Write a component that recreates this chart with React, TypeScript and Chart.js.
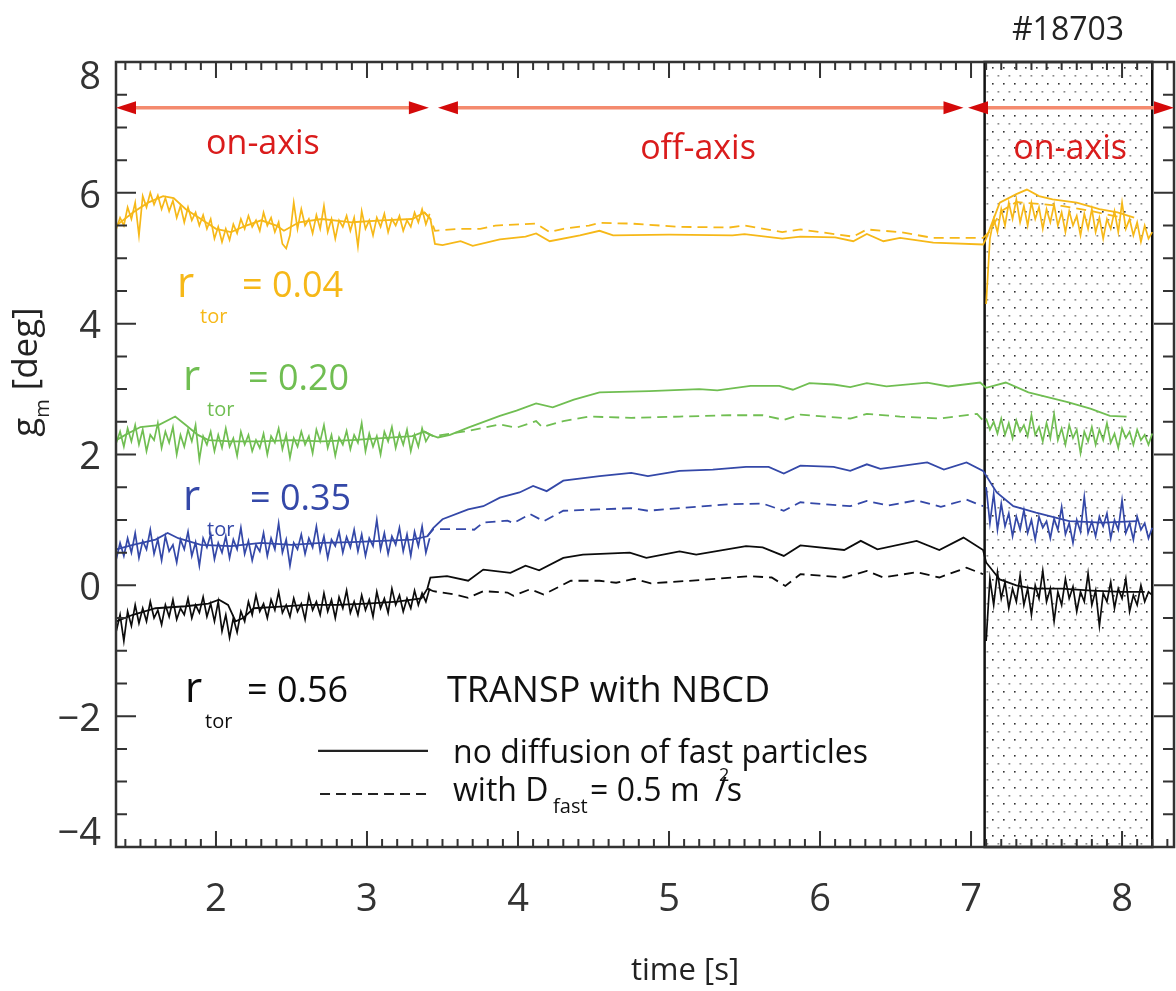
import React, { useEffect, useRef } from 'react';
import { Chart, registerables } from 'chart.js';
Chart.register(...registerables);

const FONT = '"Open Sans", "Noto Sans", sans-serif';

const X_MIN = 1.338, X_MAX = 8.344, Y_MIN = -4, Y_MAX = 8;
const X_TICKS = [2, 3, 4, 5, 6, 7, 8];
const Y_TICKS = [-4, -2, 0, 2, 4, 6, 8];

const PHASE1_T0 = 1.34;
const PHASE3_T0 = 7.10;
const DT = 0.025;
const HATCH = [7.09, 8.2];
const ARROW_LEVEL = 7.3;
const ARROW_SEGMENTS = [[1.338, 3.41], [3.47, 6.95], [6.98, 8.344]];

// measured (noisy) data, on-axis phase 1 (t = 1.34 + i*0.025)
const yellowMeas1 = [5.45,5.62,5.50,5.78,5.60,5.85,5.35,5.95,5.78,6.00,
  5.82,5.96,5.75,5.92,5.72,5.88,5.62,5.80,5.55,5.78,
  5.58,5.70,5.50,5.66,5.45,5.60,5.30,5.48,5.25,5.45,
  5.28,5.52,5.38,5.60,5.45,5.65,5.48,5.58,5.42,5.70,
  5.50,5.62,5.40,5.55,5.22,5.15,5.35,5.85,5.45,5.75,
  5.50,5.60,5.38,5.66,5.45,5.80,5.40,5.60,5.30,5.58,
  5.48,5.65,5.42,5.62,5.18,5.72,5.45,5.58,5.35,5.62,
  5.48,5.68,5.40,5.60,5.50,5.65,5.42,5.58,5.48,5.70,
  5.55,5.75,5.52,5.68];
const greenMeas1 = [2.18,2.35,2.12,2.40,2.20,2.45,2.15,2.38,2.05,2.30,
  2.22,2.48,2.10,2.35,2.18,2.42,2.00,2.30,2.12,2.38,
  2.20,2.45,1.92,2.28,2.15,2.35,2.05,2.30,2.10,2.40,
  2.12,2.25,1.98,2.35,2.15,2.30,2.05,2.22,2.10,2.32,
  2.00,2.28,2.18,2.40,2.08,2.30,1.95,2.25,2.12,2.35,
  2.15,2.28,2.02,2.38,2.20,2.45,2.10,2.30,1.98,2.26,
  2.15,2.36,2.08,2.30,2.18,2.48,2.05,2.32,2.12,2.28,
  2.00,2.35,2.20,2.42,2.10,2.32,2.15,2.38,2.05,2.30,
  2.12,2.40,2.20,2.30];
const blueMeas1 = [0.40,0.65,0.45,0.72,0.50,0.80,0.42,0.68,0.55,0.85,
  0.48,0.70,0.38,0.75,0.52,0.62,0.35,0.70,0.55,0.82,
  0.45,0.66,0.30,0.72,0.58,0.78,0.40,0.65,0.50,0.75,
  0.42,0.70,0.55,0.88,0.48,0.68,0.38,0.62,0.52,0.80,
  0.45,0.72,0.55,0.95,0.50,0.70,0.30,0.65,0.55,0.78,
  0.48,0.72,0.58,0.90,0.52,0.75,0.42,0.70,0.60,0.82,
  0.50,0.74,0.58,0.85,0.52,0.78,0.45,0.72,0.60,1.00,
  0.55,0.80,0.48,0.75,0.62,0.88,0.52,0.78,0.45,0.82,
  0.60,0.90,0.50,0.72];
const blackMeas1 = [-0.70,-0.45,-0.85,-0.40,-0.62,-0.30,-0.58,-0.35,-0.55,-0.25,
  -0.50,-0.38,-0.60,-0.30,-0.48,-0.22,-0.52,-0.35,-0.45,-0.20,
  -0.50,-0.30,-0.42,-0.18,-0.48,-0.28,-0.55,-0.25,-0.70,-0.45,
  -0.80,-0.50,-0.72,-0.40,-0.55,-0.25,-0.45,-0.15,-0.40,-0.28,
  -0.50,-0.22,-0.38,-0.10,-0.42,-0.30,-0.48,-0.20,-0.40,-0.28,
  -0.52,-0.15,-0.38,-0.25,-0.45,-0.12,-0.40,-0.22,-0.50,-0.18,
  -0.35,-0.08,-0.42,-0.25,-0.45,-0.15,-0.38,-0.22,-0.48,-0.10,
  -0.35,-0.20,-0.42,-0.05,-0.30,-0.15,-0.40,-0.20,-0.35,-0.08,
  -0.30,-0.12,-0.25,-0.05];

// measured (noisy) data, on-axis phase 3 (t = 7.10 + i*0.025)
const yellowMeas3 = [4.30,5.30,5.60,5.40,5.75,5.50,5.85,5.60,5.90,5.55,
  5.80,5.50,5.85,5.60,5.78,5.45,5.75,5.55,5.82,5.50,
  5.70,5.40,5.72,5.50,5.65,5.35,5.68,5.45,5.75,5.40,
  5.62,5.30,5.60,5.45,5.72,5.40,5.85,5.45,5.60,5.35,
  5.55,5.25,5.50,5.30,5.40];
const greenMeas3 = [2.55,2.38,2.50,2.32,2.55,2.30,2.48,2.25,2.52,2.35,
  2.45,2.28,2.60,2.30,2.42,2.20,2.48,2.25,2.62,2.22,
  2.40,2.15,2.45,2.25,2.38,2.02,2.35,2.20,2.42,2.15,
  2.38,2.22,2.48,2.18,2.32,2.10,2.40,2.25,2.35,2.15,
  2.38,2.22,2.30,2.15,2.32];
const blueMeas3 = [1.50,0.95,1.40,0.85,1.25,0.90,1.10,0.75,1.05,0.85,
  1.15,0.80,1.00,0.70,1.05,0.88,0.98,0.72,1.02,0.85,
  1.20,0.78,0.95,0.65,1.00,0.82,1.35,0.80,0.98,0.75,
  1.05,0.90,1.10,0.72,1.00,0.85,1.30,0.80,0.95,0.70,
  1.05,0.85,0.95,0.72,0.88];
const blackMeas3 = [-0.85,0.10,-0.30,0.20,-0.20,0.05,-0.35,-0.05,-0.25,0.15,
  -0.30,-0.05,-0.45,0.00,-0.20,0.22,-0.25,-0.05,-0.55,-0.10,
  -0.30,0.10,-0.20,-0.02,-0.40,-0.10,-0.25,0.18,-0.30,-0.08,
  -0.62,-0.12,-0.25,0.05,-0.35,-0.05,-0.20,0.10,-0.40,-0.15,
  -0.30,0.00,-0.25,-0.10,-0.15];

// TRANSP, no diffusion (solid) [t, value]
const yellowSolid = [[1.34,5.5],[1.45,5.7],[1.55,5.85],[1.65,5.95],[1.72,5.92],[1.8,5.75],[1.9,5.6],[2.0,5.45],[2.1,5.4],[2.2,5.5],[2.3,5.58],[2.4,5.5],[2.45,5.42],[2.55,5.55],[2.7,5.6],[2.9,5.55],[3.1,5.58],[3.3,5.6],[3.38,5.7],[3.42,5.6],[3.45,5.22],[3.5,5.2],[3.62,5.26],[3.7,5.19],[3.88,5.29],[4.05,5.33],[4.12,5.38],[4.21,5.26],[4.41,5.35],[4.54,5.42],[4.63,5.35],[5.0,5.36],[5.42,5.35],[5.5,5.37],[5.75,5.3],[5.87,5.33],[6.1,5.32],[6.22,5.26],[6.31,5.37],[6.42,5.26],[6.53,5.31],[6.75,5.24],[7.08,5.21],[7.1,5.3],[7.19,5.85],[7.3,5.98],[7.37,6.05],[7.45,5.95],[7.54,5.9],[7.7,5.85],[7.85,5.75],[7.97,5.7],[8.08,5.62]];
const greenSolid = [[1.34,2.22],[1.4,2.3],[1.5,2.42],[1.62,2.45],[1.73,2.58],[1.8,2.45],[1.88,2.3],[1.95,2.22],[2.1,2.2],[2.3,2.2],[2.5,2.22],[2.7,2.2],[2.9,2.22],[3.1,2.25],[3.3,2.28],[3.38,2.35],[3.42,2.3],[3.47,2.26],[3.55,2.3],[3.67,2.41],[3.88,2.59],[3.99,2.67],[4.12,2.78],[4.23,2.72],[4.37,2.84],[4.54,2.95],[4.87,2.97],[5.2,3.0],[5.32,2.98],[5.54,3.05],[5.73,3.05],[5.82,2.99],[5.93,3.09],[6.09,3.07],[6.2,3.03],[6.31,3.09],[6.44,3.04],[6.71,3.1],[6.85,3.04],[7.06,3.1],[7.1,3.02],[7.23,3.1],[7.38,2.95],[7.64,2.8],[7.79,2.7],[7.92,2.59],[8.03,2.58]];
const blueSolid = [[1.34,0.55],[1.45,0.62],[1.6,0.7],[1.68,0.8],[1.75,0.72],[1.9,0.62],[2.1,0.6],[2.3,0.65],[2.5,0.62],[2.7,0.65],[2.9,0.66],[3.1,0.68],[3.3,0.7],[3.4,0.75],[3.44,0.88],[3.5,1.01],[3.67,1.16],[3.77,1.21],[3.88,1.34],[4.01,1.42],[4.1,1.52],[4.19,1.44],[4.3,1.6],[4.54,1.67],[4.75,1.72],[4.86,1.67],[5.07,1.75],[5.29,1.77],[5.51,1.81],[5.66,1.81],[5.76,1.71],[5.87,1.83],[6.09,1.81],[6.2,1.75],[6.31,1.85],[6.4,1.78],[6.71,1.88],[6.82,1.77],[6.97,1.88],[7.08,1.75],[7.17,1.42],[7.28,1.21],[7.43,1.11],[7.65,0.98],[7.87,0.96],[8.1,0.98]];
const blackSolid = [[1.34,-0.55],[1.45,-0.45],[1.6,-0.35],[1.8,-0.32],[1.95,-0.28],[2.02,-0.22],[2.08,-0.3],[2.13,-0.55],[2.18,-0.5],[2.25,-0.35],[2.4,-0.33],[2.6,-0.3],[2.8,-0.3],[3.0,-0.28],[3.2,-0.25],[3.36,-0.2],[3.4,-0.05],[3.42,0.12],[3.53,0.14],[3.67,0.07],[3.77,0.24],[3.95,0.19],[4.05,0.3],[4.14,0.23],[4.3,0.42],[4.43,0.47],[4.74,0.5],[4.85,0.42],[5.07,0.52],[5.18,0.47],[5.51,0.6],[5.62,0.58],[5.76,0.45],[5.87,0.61],[6.16,0.54],[6.27,0.68],[6.38,0.55],[6.64,0.68],[6.79,0.54],[6.95,0.73],[7.08,0.54],[7.1,0.35],[7.19,0.09],[7.3,0.0],[7.41,-0.05],[7.6,-0.05],[7.8,-0.08],[8.0,-0.1],[8.15,-0.1]];

// TRANSP, with D_fast (dashed) [t, value]
const yellowDashed = [[3.38,5.7],[3.42,5.6],[3.45,5.42],[3.62,5.45],[3.75,5.45],[3.85,5.5],[4.12,5.53],[4.21,5.4],[4.3,5.45],[4.47,5.5],[4.54,5.54],[4.75,5.53],[5.07,5.48],[5.4,5.47],[5.5,5.5],[5.75,5.4],[5.87,5.44],[6.22,5.33],[6.31,5.44],[6.53,5.4],[6.75,5.31],[7.08,5.31],[7.12,5.4],[7.2,5.72],[7.3,5.86],[7.45,5.83],[7.6,5.8],[7.8,5.72],[8.0,5.62]];
const greenDashed = [[3.38,2.35],[3.44,2.28],[3.67,2.36],[3.88,2.46],[3.99,2.41],[4.12,2.51],[4.16,2.42],[4.3,2.51],[4.47,2.58],[4.75,2.56],[5.07,2.58],[5.4,2.6],[5.62,2.6],[5.76,2.53],[5.87,2.61],[6.2,2.55],[6.31,2.62],[6.53,2.58],[6.79,2.55],[7.04,2.62],[7.08,2.52]];
const blueDashed = [[3.4,0.75],[3.44,0.86],[3.67,0.86],[3.71,0.85],[3.77,0.96],[3.93,0.99],[3.97,0.95],[4.08,1.09],[4.17,0.98],[4.3,1.14],[4.53,1.16],[4.75,1.18],[4.86,1.14],[5.07,1.18],[5.4,1.24],[5.62,1.25],[5.76,1.14],[5.87,1.27],[6.2,1.21],[6.31,1.29],[6.45,1.22],[6.64,1.3],[6.8,1.2],[6.97,1.31],[7.08,1.21]];
const blackDashed = [[3.4,-0.05],[3.44,-0.09],[3.58,-0.14],[3.67,-0.19],[3.77,-0.09],[3.93,-0.11],[3.97,-0.16],[4.08,-0.06],[4.17,-0.14],[4.35,0.07],[4.54,0.07],[4.65,0.04],[4.77,0.1],[4.88,0.03],[5.2,0.08],[5.53,0.14],[5.68,0.12],[5.77,-0.01],[5.87,0.17],[6.16,0.12],[6.31,0.22],[6.42,0.12],[6.64,0.2],[6.79,0.12],[6.97,0.27],[7.08,0.17]];

const COLORS = {
  yellow: 'rgb(246,184,24)',
  green: 'rgb(112,190,82)',
  blue: 'rgb(52,72,168)',
  black: 'rgb(12,12,12)',
};

const RADIUS_LABELS = [
  { color: COLORS.yellow, t: 1.742, v: 4.41, value: '= 0.04', tor: 23, eq: 65 },
  { color: COLORS.green, t: 1.782, v: 2.985, value: '= 0.20', tor: 24, eq: 65 },
  { color: COLORS.blue, t: 1.782, v: 1.15, value: '= 0.35', tor: 24, eq: 67 },
  { color: COLORS.black, t: 1.795, v: -1.78, value: '= 0.56', tor: 20, eq: 62 },
];
const PHASE_LABELS = [
  { t: 2.311, v: 6.6, text: 'on-axis' },
  { t: 5.192, v: 6.52, text: 'off-axis' },
  { t: 7.656, v: 6.52, text: 'on-axis' },
];

type Part = { text: string; size: number; ox?: number; oy?: number };

function drawRich(ctx: CanvasRenderingContext2D, parts: Part[], x: number, y: number, color: string, align: 'left' | 'center' = 'left') {
  ctx.fillStyle = color;
  ctx.textBaseline = 'alphabetic';
  ctx.textAlign = 'left';
  const placed: { p: Part; ox: number }[] = [];
  let cursor = 0;
  for (const p of parts) {
    ctx.font = `${p.size}px ${FONT}`;
    const w = ctx.measureText(p.text).width;
    const ox = p.ox ?? cursor;
    placed.push({ p, ox });
    cursor = ox + w;
  }
  const start = align === 'center' ? x - cursor / 2 : x;
  for (const { p, ox } of placed) {
    ctx.font = `${p.size}px ${FONT}`;
    ctx.fillText(p.text, start + ox, y + (p.oy ?? 0));
  }
}

const series = (t0: number, vals: number[]) => vals.map((v, i) => ({ x: +(t0 + i * DT).toFixed(4), y: v }));
const pairs = (arr: number[][]) => arr.map(([x, y]) => ({ x, y }));

function makePattern(ctx: CanvasRenderingContext2D) {
  const c = document.createElement('canvas');
  c.width = 11; c.height = 16;
  const g = c.getContext('2d')!;
  g.fillStyle = '#333';
  g.fillRect(2, 3, 1.6, 1.6);
  g.fillStyle = '#888';
  g.fillRect(7.5, 11, 1.8, 1.6);
  return ctx.createPattern(c, 'repeat');
}

export default function App() {
  const ref = useRef<HTMLCanvasElement>(null);
  useEffect(() => {
    const canvas = ref.current!;
    const pattern = makePattern(canvas.getContext('2d')!);

    const overlay = {
      id: 'overlay',
      beforeDatasetsDraw(chart: any) {
        const { ctx, chartArea: ca, scales: { x } } = chart;
        const x0 = x.getPixelForValue(HATCH[0]);
        const x1 = x.getPixelForValue(HATCH[1]);
        ctx.save();
        ctx.fillStyle = pattern;
        ctx.fillRect(x0, ca.top, x1 - x0, ca.bottom - ca.top);
        ctx.strokeStyle = '#111';
        ctx.lineWidth = 2.5;
        ctx.strokeRect(x0, ca.top, x1 - x0, ca.bottom - ca.top);
        ctx.restore();
      },
      afterDatasetsDraw(chart: any) {
        const { ctx, chartArea: ca, scales: { x, y } } = chart;
        ctx.save();
        // frame
        ctx.strokeStyle = '#333';
        ctx.lineWidth = 2.5;
        ctx.strokeRect(ca.left, ca.top, ca.right - ca.left, ca.bottom - ca.top);
        // ticks
        ctx.lineWidth = 2;
        ctx.beginPath();
        for (let k = Math.ceil(X_MIN * 10); k <= Math.floor(X_MAX * 10); k++) {
          const px = x.getPixelForValue(k / 10);
          const len = k % 10 === 0 ? 16 : 8;
          ctx.moveTo(px, ca.bottom); ctx.lineTo(px, ca.bottom - len);
          ctx.moveTo(px, ca.top); ctx.lineTo(px, ca.top + len);
        }
        for (let k = Y_MIN * 2; k <= Y_MAX * 2; k++) {
          const py = y.getPixelForValue(k / 2);
          const len = k % 4 === 0 ? 20 : 11;
          ctx.moveTo(ca.left, py); ctx.lineTo(ca.left + len, py);
          ctx.moveTo(ca.right, py); ctx.lineTo(ca.right - len, py);
        }
        ctx.stroke();

        // y tick labels (end labels pulled inward as in the original)
        ctx.fillStyle = '#333';
        ctx.font = `38px ${FONT}`;
        ctx.textAlign = 'right';
        ctx.textBaseline = 'middle';
        for (const v of Y_TICKS) {
          const shift = v === Y_MAX ? 16 : v === Y_MIN ? -13 : 4;
          ctx.fillText(v < 0 ? '\u2212' + Math.abs(v) : String(v), ca.left - 15, y.getPixelForValue(v) + shift);
        }

        // arrows
        const ay = y.getPixelForValue(ARROW_LEVEL);
        for (const [a, b] of ARROW_SEGMENTS) {
          const xa = x.getPixelForValue(a), xb = x.getPixelForValue(b);
          ctx.strokeStyle = 'rgb(244,138,110)';
          ctx.lineWidth = 3.5;
          ctx.beginPath(); ctx.moveTo(xa + 10, ay); ctx.lineTo(xb - 10, ay); ctx.stroke();
          ctx.fillStyle = 'rgb(212,10,10)';
          for (const [tip, dir] of [[xa, -1], [xb, 1]]) {
            ctx.beginPath();
            ctx.moveTo(tip, ay);
            ctx.lineTo(tip - dir * 20, ay - 6.5);
            ctx.lineTo(tip - dir * 20, ay + 6.5);
            ctx.closePath();
            ctx.fill();
          }
        }
        // phase labels
        for (const l of PHASE_LABELS) {
          drawRich(ctx, [{ text: l.text, size: 34 }], x.getPixelForValue(l.t), y.getPixelForValue(l.v), 'rgb(218,28,28)', 'center');
        }
        // shot number
        drawRich(ctx, [{ text: '#18703', size: 32 }], x.getPixelForValue(7.642), y.getPixelForValue(8.335), '#222', 'center');
        // radius labels
        for (const r of RADIUS_LABELS) {
          drawRich(ctx, [
            { text: 'r', size: 42, ox: 0 },
            { text: 'tor', size: 20, ox: r.tor, oy: 26 },
            { text: r.value, size: 36, ox: r.eq },
          ], x.getPixelForValue(r.t), y.getPixelForValue(r.v), r.color);
        }
        // legend block
        drawRich(ctx, [{ text: 'TRANSP with NBCD', size: 36 }], x.getPixelForValue(3.53), y.getPixelForValue(-1.78), '#111');
        drawRich(ctx, [{ text: 'no diffusion of fast particles', size: 32 }], x.getPixelForValue(3.57), y.getPixelForValue(-2.72), '#111');
        drawRich(ctx, [
          { text: 'with D', size: 32, ox: 0 },
          { text: 'fast', size: 20, ox: 100, oy: 12 },
          { text: '= 0.5 m', size: 32, ox: 137 },
          { text: '2', size: 18, ox: 266, oy: -20 },
          { text: '/s', size: 32, ox: 262 },
        ], x.getPixelForValue(3.57), y.getPixelForValue(-3.3), '#111');
        ctx.strokeStyle = '#222';
        ctx.lineWidth = 2.2;
        ctx.beginPath();
        ctx.moveTo(x.getPixelForValue(2.676), y.getPixelForValue(-2.53));
        ctx.lineTo(x.getPixelForValue(3.404), y.getPixelForValue(-2.53));
        ctx.stroke();
        ctx.setLineDash([10, 6]);
        ctx.beginPath();
        ctx.moveTo(x.getPixelForValue(2.689), y.getPixelForValue(-3.19));
        ctx.lineTo(x.getPixelForValue(3.417), y.getPixelForValue(-3.19));
        ctx.stroke();
        ctx.setLineDash([]);

        // axis titles
        drawRich(ctx, [{ text: 'time [s]', size: 31 }], x.getPixelForValue(5.106), y.getPixelForValue(-6.03), '#222', 'center');
        ctx.translate(ca.left - 79, y.getPixelForValue(3.26));
        ctx.rotate(-Math.PI / 2);
        drawRich(ctx, [
          { text: 'g', size: 35 },
          { text: 'm', size: 20, oy: 12 },
          { text: ' [deg]', size: 35 },
        ], 0, 0, '#222', 'center');
        ctx.restore();
      },
    };

    const meas = (data: any[], color: string) => ({ data, borderColor: color, borderWidth: 1.7, pointRadius: 0, tension: 0, fill: false });
    const solid = (data: any[], color: string) => ({ data, borderColor: color, borderWidth: 1.8, pointRadius: 0, tension: 0, fill: false });
    const dashed = (data: any[], color: string) => ({ data, borderColor: color, borderWidth: 1.8, borderDash: [10, 6], pointRadius: 0, tension: 0, fill: false });

    const chart = new Chart(canvas, {
      type: 'line',
      data: {
        datasets: [
          solid(pairs(yellowSolid), COLORS.yellow),
          dashed(pairs(yellowDashed), COLORS.yellow),
          solid(pairs(greenSolid), COLORS.green),
          dashed(pairs(greenDashed), COLORS.green),
          solid(pairs(blueSolid), COLORS.blue),
          dashed(pairs(blueDashed), COLORS.blue),
          solid(pairs(blackSolid), COLORS.black),
          dashed(pairs(blackDashed), COLORS.black),
          meas(series(PHASE1_T0, yellowMeas1), COLORS.yellow),
          meas(series(PHASE3_T0, yellowMeas3), COLORS.yellow),
          meas(series(PHASE1_T0, greenMeas1), COLORS.green),
          meas(series(PHASE3_T0, greenMeas3), COLORS.green),
          meas(series(PHASE1_T0, blueMeas1), COLORS.blue),
          meas(series(PHASE3_T0, blueMeas3), COLORS.blue),
          meas(series(PHASE1_T0, blackMeas1), COLORS.black),
          meas(series(PHASE3_T0, blackMeas3), COLORS.black),
        ] as any,
      },
      options: {
        responsive: false,
        animation: false,
        events: [],
        layout: { padding: { left: 0, right: 2, top: 62, bottom: 0 } },
        plugins: { legend: { display: false }, tooltip: { enabled: false } },
        scales: {
          x: {
            type: 'linear', min: X_MIN, max: X_MAX,
            grid: { display: false }, border: { display: false },
            afterBuildTicks: (s: any) => { s.ticks = X_TICKS.map((v) => ({ value: v })); },
            afterFit: (s: any) => { s.height = 144; },
            ticks: { font: { family: FONT, size: 38 }, color: '#333', padding: 22, maxRotation: 0, autoSkip: false },
          },
          y: {
            type: 'linear', min: Y_MIN, max: Y_MAX,
            grid: { display: false }, border: { display: false },
            afterBuildTicks: (s: any) => { s.ticks = Y_TICKS.map((v) => ({ value: v })); },
            afterFit: (s: any) => { s.width = 116; },
            ticks: { display: false },
          },
        },
      } as any,
      plugins: [overlay],
    });
    return () => chart.destroy();
  }, []);
  return (
    <div style={{ position: 'fixed', left: 0, top: 0, width: 1176, height: 991, background: '#fff' }}>
      <canvas ref={ref} width={1176} height={991} style={{ display: 'block', width: 1176, height: 991 }} />
    </div>
  );
}
